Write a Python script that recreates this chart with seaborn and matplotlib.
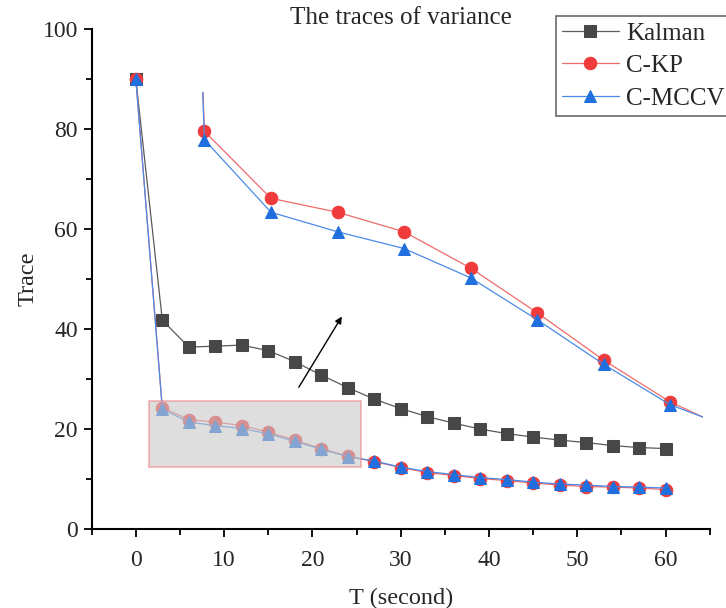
import matplotlib
matplotlib.use('Agg')
import matplotlib.pyplot as plt
from matplotlib.patches import Rectangle
from matplotlib.ticker import MultipleLocator
import seaborn as sns

# data
t = [0, 3, 6, 9, 12, 15, 18, 21, 24, 27, 30, 33, 36, 39, 42, 45, 48, 51, 54, 57, 60]
kalman = [90, 41.8, 36.4, 36.6, 36.8, 35.7, 33.5, 30.8, 28.3, 26.0, 24.1, 22.5, 21.2,
          20.0, 19.1, 18.4, 17.8, 17.3, 16.7, 16.3, 16.1]
ckp = [90, 24.3, 21.9, 21.4, 20.7, 19.4, 17.8, 16.1, 14.6, 13.5, 12.3, 11.3, 10.7,
       10.1, 9.7, 9.2, 8.8, 8.5, 8.4, 8.2, 7.9]
cmccv = [90, 24.0, 21.4, 20.7, 20.1, 19.05, 17.55, 15.95, 14.5, 13.6, 12.4, 11.5, 10.9,
         10.3, 9.9, 9.4, 9.0, 8.8, 8.5, 8.4, 8.2]

series = [('Kalman', kalman, 's', '#474747', '#5a5a5a'),
          ('C-KP', ckp, 'o', '#ef3b3b', '#f06a6a'),
          ('C-MCCV', cmccv, '^', '#1f6fdf', '#4a8ae6')]

sns.set_style('ticks')
plt.rcParams['font.family'] = ['Liberation Serif', 'DejaVu Serif']

fig = plt.figure(figsize=(7.26, 6.08), dpi=100)
ax = fig.add_axes([0.1263, 0.1299, 0.8512, 0.8219])

for name, vals, mk, mc, lc in series:
    sns.lineplot(x=t, y=vals, ax=ax, color=lc, lw=0.9, marker=mk, markersize=9,
                 markerfacecolor=mc, markeredgecolor=mc, label=name, zorder=3)

ax.set_xlim(-5, 65)
ax.set_ylim(0, 100)
ax.xaxis.set_major_locator(MultipleLocator(10))
ax.xaxis.set_minor_locator(MultipleLocator(5))
ax.yaxis.set_major_locator(MultipleLocator(20))
ax.yaxis.set_minor_locator(MultipleLocator(10))
ax.tick_params(which='major', direction='out', length=6, width=1.3, labelsize=17, color='black')
ax.tick_params(axis='x', which='major', pad=9)
ax.tick_params(axis='y', which='major', pad=4)
ax.tick_params(which='minor', direction='out', length=4, width=1.3, color='black')
for s in ['left', 'bottom']:
    ax.spines[s].set_linewidth(1.5)
    ax.spines[s].set_color('black')
sns.despine(ax=ax)
ax.set_xlabel('T (second)', fontsize=17.5, labelpad=12)
ax.set_ylabel('Trace', fontsize=17.5, labelpad=3)
ax.set_title('The traces of variance', fontsize=18, pad=-12)

# highlighted zoom region
ax.add_patch(Rectangle((1.5, 12.5), 24.0, 13.2, facecolor='#c8c8c8', alpha=0.6,
                       edgecolor='#f08080', lw=1.2, zorder=5))
ax.annotate('', xy=(23.5, 43.0), xytext=(18.3, 27.9),
            arrowprops=dict(arrowstyle='-|>', color='black', lw=1.0, mutation_scale=10), zorder=6)

# zoomed inset (transparent, no axes)
ins = ax.inset_axes([4.0, 13.7, 60.3, 73.7], transform=ax.transData)
for name, vals, mk, mc, lc in series[1:]:
    sns.lineplot(x=t, y=vals, ax=ins, color=lc, lw=0.9, marker=mk, markersize=9,
                 markerfacecolor=mc, markeredgecolor=mc, legend=False)
ins.set_xlim(1.5, 25.5)
ins.set_ylim(12.5, 25.7)
ins.set_xticks([])
ins.set_yticks([])
ins.set_xlabel('')
ins.set_ylabel('')
ins.set_axis_off()
ins.patch.set_alpha(0)

leg = ax.legend(loc='upper left', bbox_to_anchor=(0.766, 0.974), bbox_transform=fig.transFigure,
                fontsize=18, frameon=True, fancybox=False, edgecolor='#444444',
                handlelength=2.25, handletextpad=0.3, borderpad=0.25, labelspacing=0.4,
                borderaxespad=0, markerscale=1.0)
leg.get_frame().set_linewidth(1.2)

fig.savefig('out.png', dpi=100)
